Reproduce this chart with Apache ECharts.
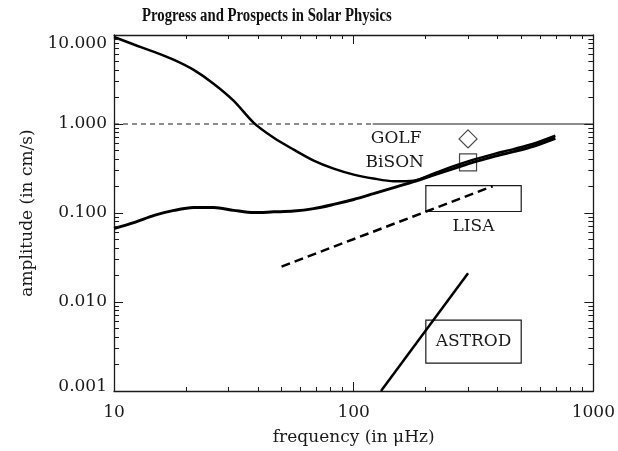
<!DOCTYPE html>
<html>
<head>
<meta charset="utf-8">
<script src="https://cdn.jsdelivr.net/npm/echarts@6/dist/echarts.min.js"></script>
<style>
  html, body { margin: 0; padding: 0; background: #fff; }
  #chart { width: 618px; height: 451px; }
</style>
</head>
<body>
<div id="chart"></div>
<script>
// values (frequency in muHz, amplitude in cm/s)
const solarFreq = [10, 12.1, 14.7, 17.8, 21.5, 26.1, 31.6, 38.3, 46.4, 56.2, 68.1, 82.5, 100, 121, 147, 178, 215, 261, 316, 383, 464, 562, 694];
const solarAmp = [9.5, 7.83, 6.45, 5.25, 4.05, 2.82, 1.82, 1.03, 0.70, 0.515, 0.388, 0.315, 0.27, 0.244, 0.228, 0.231, 0.277, 0.336, 0.398, 0.459, 0.522, 0.60, 0.738];
const noiseFreq = [10, 12.1, 14.7, 17.8, 21.5, 26.1, 31.6, 38.3, 46.4, 56.2, 68.1, 82.5, 100, 121, 147, 178, 215, 261, 316, 383, 464, 562, 694];
const noiseAmp = [0.067, 0.078, 0.094, 0.107, 0.115, 0.115, 0.107, 0.101, 0.103, 0.105, 0.112, 0.125, 0.142, 0.165, 0.193, 0.225, 0.267, 0.315, 0.373, 0.43, 0.489, 0.563, 0.692];
const lisaFreq = [50, 380];
const lisaAmp = [0.025, 0.2];
const astrodFreq = [130, 300];
const astrodAmp = [0.001, 0.021];
const unityDashFreq = [10, 120];
const unitySolidFreq = [120, 1000];
const unityAmp = [1, 1];
const golf = [300, 0.68];
const bison = [300, 0.37];
const lisaBox = [200, 0.104, 500, 0.203];
const astrodBox = [200, 0.00206, 500, 0.00625];

const xTickLabels = ['10', '100', '1000'];
const yTickLabels = ['0.001', '0.010', '0.100', '1.000', '10.000'];
const xDecades = [10, 100];
const yDecades = [0.001, 0.01, 0.1, 1];
const minorSteps = [2, 3, 4, 5, 6, 7, 8, 9];

const FONT = '"DejaVu Serif", serif';
const INK = '#1a1a1a';

const pairs = (xs, ys) => xs.map((x, i) => [x, ys[i]]);

// [x, y, kind]: kind 0 = tick on the frequency axes, 1 = tick on the amplitude axes
const minorTicks = [];
xDecades.forEach(d => minorSteps.forEach(m => minorTicks.push([d * m, 1, 0])));
yDecades.forEach(d => minorSteps.forEach(m => minorTicks.push([100, d * m, 1])));

function renderMinorTick(params, api) {
  const cs = params.coordSys;
  const p = api.coord([api.value(0), api.value(1)]);
  if (api.value(2) === 0) {
    const px = Math.floor(p[0]);
    return {
      type: 'group',
      children: [
        { type: 'rect', shape: { x: px, y: cs.y + cs.height - 4, width: 1, height: 4 }, style: { fill: INK } },
        { type: 'rect', shape: { x: px, y: cs.y, width: 1, height: 4 }, style: { fill: INK } }
      ]
    };
  }
  const py = Math.floor(p[1]);
  return {
    type: 'group',
    children: [
      { type: 'rect', shape: { x: cs.x, y: py, width: 5, height: 1 }, style: { fill: INK } },
      { type: 'rect', shape: { x: cs.x + cs.width - 5, y: py, width: 5, height: 1 }, style: { fill: INK } }
    ]
  };
}

function boxRenderer(name, labelBelow) {
  return function (params, api) {
    const p0 = api.coord([api.value(0), api.value(3)]);
    const p1 = api.coord([api.value(2), api.value(1)]);
    const cx = (p0[0] + p1[0]) / 2;
    const ty = labelBelow ? p1[1] + 15 : (p0[1] + p1[1]) / 2;
    return {
      type: 'group',
      children: [
        { type: 'rect', shape: { x: p0[0], y: p0[1], width: p1[0] - p0[0], height: p1[1] - p0[1] },
          style: { fill: 'none', stroke: INK, lineWidth: 1.2 } },
        { type: 'text', style: { text: name, x: cx, y: ty, textAlign: 'center', textVerticalAlign: 'middle',
          font: '17px ' + FONT, fill: INK } }
      ]
    };
  };
}

const axisLine = { show: true, lineStyle: { color: INK, width: 1.3 } };
const majorTick = { show: true, inside: true, length: 9, lineStyle: { color: INK, width: 1 } };
const markLabel = { show: true, position: 'left', fontFamily: FONT, fontSize: 17, color: INK, opacity: 1 };

const chart = echarts.init(document.getElementById('chart'), null, { renderer: 'canvas' });
chart.setOption({
  animation: false,
  backgroundColor: '#fff',
  graphic: [{
    type: 'text', left: 142, top: 7, scaleX: 0.82, z: 10,
    style: { text: 'Progress and Prospects in Solar Physics', fill: '#111',
      font: 'bold 18px "Liberation Serif", serif' }
  }],
  grid: { left: 114, right: 24, top: 35, bottom: 59 },
  xAxis: [
    {
      type: 'log', logBase: 10, min: 10, max: 1000,
      name: 'frequency (in \u03bcHz)', nameLocation: 'middle', nameGap: 38,
      nameTextStyle: { fontFamily: FONT, fontSize: 17, color: INK },
      axisLine, axisTick: majorTick, splitLine: { show: false },
      axisLabel: { margin: 13, fontFamily: FONT, fontSize: 17, color: INK,
        formatter: (v, i) => xTickLabels[i] }
    },
    {
      type: 'log', logBase: 10, min: 10, max: 1000, position: 'top',
      axisLine, axisTick: majorTick, splitLine: { show: false }, axisLabel: { show: false }
    }
  ],
  yAxis: [
    {
      type: 'log', logBase: 10, min: 0.001, max: 10,
      name: 'amplitude (in cm/s)', nameLocation: 'middle', nameGap: 78,
      nameTextStyle: { fontFamily: FONT, fontSize: 17, color: INK },
      axisLine, axisTick: majorTick, splitLine: { show: false },
      axisLabel: { margin: 7, fontFamily: FONT, fontSize: 17, color: INK,
        formatter: (v, i) => i === yTickLabels.length - 1 ? '{top|' + yTickLabels[i] + '}'
          : i === 0 ? '{bot|' + yTickLabels[i] + '}' : yTickLabels[i],
        rich: {
          top: { fontFamily: FONT, fontSize: 17, color: INK, padding: [18, 0, 0, 0] },
          bot: { fontFamily: FONT, fontSize: 17, color: INK, padding: [0, 0, 8, 0] }
        } }
    },
    {
      type: 'log', logBase: 10, min: 0.001, max: 10, position: 'right',
      axisLine, axisTick: majorTick, splitLine: { show: false }, axisLabel: { show: false }
    }
  ],
  series: [
    { type: 'custom', renderItem: renderMinorTick, data: minorTicks, z: 5 },
    {
      type: 'scatter', data: [golf], symbol: 'diamond', symbolSize: [18, 18], z: 1,
      itemStyle: { color: '#fff', borderColor: INK, borderWidth: 1.2 },
      label: Object.assign({ distance: 37, formatter: 'GOLF' }, markLabel)
    },
    {
      type: 'scatter', data: [bison], symbol: 'rect', symbolSize: [17, 17], z: 1,
      itemStyle: { color: '#fff', borderColor: INK, borderWidth: 1.2 },
      label: Object.assign({ distance: 35, formatter: 'BiSON' }, markLabel)
    },
    {
      type: 'line', data: pairs(unityDashFreq, unityAmp), showSymbol: false,
      lineStyle: { color: INK, width: 1, type: [5, 4] }
    },
    {
      type: 'line', data: pairs(unitySolidFreq, unityAmp), showSymbol: false,
      lineStyle: { color: INK, width: 1 }
    },
    {
      type: 'line', data: pairs(noiseFreq, noiseAmp), showSymbol: false, smooth: 0.3,
      lineStyle: { color: '#000', width: 3 }
    },
    {
      type: 'line', data: pairs(solarFreq, solarAmp), showSymbol: false, smooth: 0.3,
      lineStyle: { color: '#000', width: 2.5 }
    },
    {
      type: 'line', data: pairs(lisaFreq, lisaAmp), showSymbol: false,
      lineStyle: { color: '#000', width: 2.5, type: [9, 5] }
    },
    {
      type: 'line', data: pairs(astrodFreq, astrodAmp), showSymbol: false,
      lineStyle: { color: '#000', width: 2.5 }
    },
    { type: 'custom', renderItem: boxRenderer('LISA', true), data: [lisaBox], z: 3 },
    { type: 'custom', renderItem: boxRenderer('ASTROD', false), data: [astrodBox], z: 3 }
  ]
});
</script>
</body>
</html>
